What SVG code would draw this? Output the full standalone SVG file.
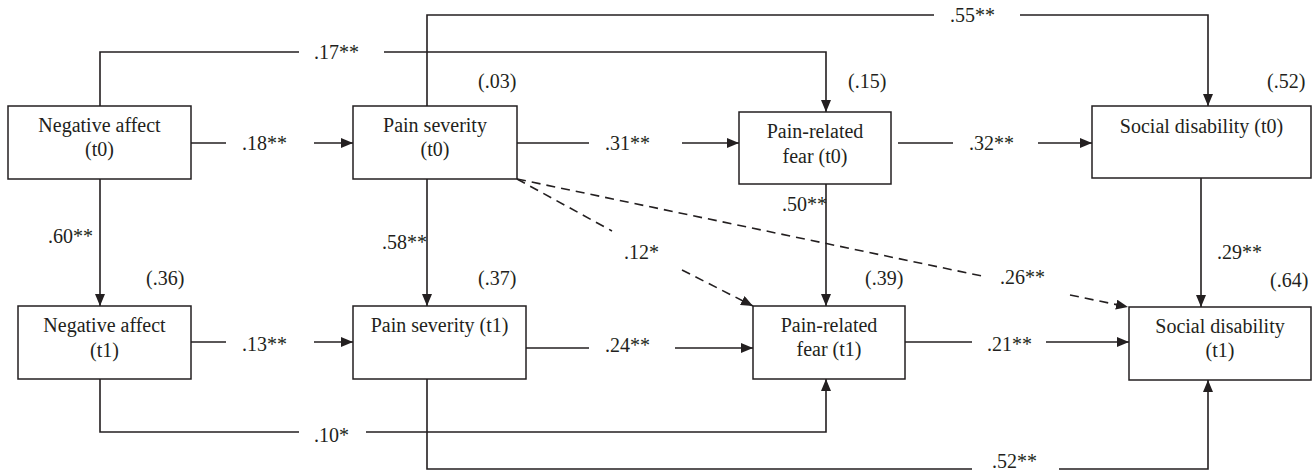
<svg xmlns="http://www.w3.org/2000/svg" width="1315" height="474" viewBox="0 0 1315 474">
<style>
  .box{fill:#fff;stroke:#231f20;stroke-width:1.5}
  .t{font-family:"Liberation Serif","Times New Roman",serif;font-size:20px;fill:#231f20}
  .c{text-anchor:middle}
  .ln{fill:none;stroke:#231f20;stroke-width:1.6}
  .ar{marker-end:url(#ah)}
  .d{stroke-dasharray:9 6}
</style>
<defs>
  <marker id="ah" markerUnits="userSpaceOnUse" markerWidth="12" markerHeight="10" refX="12" refY="5" orient="auto">
    <path d="M0,0 L12,5 L0,10 z" fill="#231f20"/>
  </marker>
</defs>
<rect width="1315" height="474" fill="#fff"/>
<g id="connectors">
  <path class="ln" d="M100,106 V52 H299"/>
  <path class="ln ar" d="M384,52 H826 V112"/>
  <path class="ln" d="M427,106 V15 H934"/>
  <path class="ln ar" d="M1020,15 H1208 V106"/>
  <path class="ln" d="M191,143 H226"/>
  <path class="ln ar" d="M314,143 H353"/>
  <path class="ln" d="M517,143 H589"/>
  <path class="ln ar" d="M682,143 H739"/>
  <path class="ln" d="M898,143 H953"/>
  <path class="ln ar" d="M1038,143 H1092"/>
  <path class="ln ar" d="M100,179 V306"/>
  <path class="ln ar" d="M427,179 V306"/>
  <path class="ln ar" d="M826,184 V306"/>
  <path class="ln ar" d="M1201,178 V307"/>
  <path class="ln" d="M191,342 H226"/>
  <path class="ln ar" d="M314,342 H353"/>
  <path class="ln" d="M526,348 H589"/>
  <path class="ln ar" d="M675,348 H753"/>
  <path class="ln" d="M905,342 H972"/>
  <path class="ln ar" d="M1046,342 H1129"/>
  <path class="ln" d="M100,379 V432 H299"/>
  <path class="ln ar" d="M366,432 H826 V379"/>
  <path class="ln" d="M427,379 V469 H972"/>
  <path class="ln ar" d="M1059,469 H1208 V380"/>
  <path class="ln d" d="M517,179 L612,231"/>
  <path class="ln d ar" d="M682,270 L753,306"/>
  <path class="ln d" d="M517,179 L982,276"/>
  <path class="ln d ar" d="M1070,295 L1128,307"/>
  <g class="t">
    <text x="314" y="59">.17**</text>
    <text x="950" y="22">.55**</text>
    <text x="242" y="150">.18**</text>
    <text x="605" y="150">.31**</text>
    <text x="969" y="150">.32**</text>
    <text x="48" y="243">.60**</text>
    <text x="382" y="249">.58**</text>
    <text x="782" y="211">.50**</text>
    <text x="1217" y="259">.29**</text>
    <text x="624" y="259">.12*</text>
    <text x="1000" y="284">.26**</text>
    <text x="242" y="351">.13**</text>
    <text x="605" y="352">.24**</text>
    <text x="987" y="351">.21**</text>
    <text x="314" y="442">.10*</text>
    <text x="992" y="468">.52**</text>
  </g>
</g>
<g id="na0">
  <rect class="box" x="8" y="106" width="183" height="73"/>
  <text class="t c" x="99.5" y="132">Negative affect</text>
  <text class="t c" x="99.5" y="156">(t0)</text>
</g>
<g id="ps0">
  <rect class="box" x="353" y="106" width="164" height="73"/>
  <text class="t c" x="435" y="132">Pain severity</text>
  <text class="t c" x="435" y="156">(t0)</text>
  <text class="t" x="478" y="88">(.03)</text>
</g>
<g id="prf0">
  <rect class="box" x="739" y="112" width="152" height="72"/>
  <text class="t c" x="815" y="138">Pain-related</text>
  <text class="t c" x="815" y="163">fear (t0)</text>
  <text class="t" x="848" y="88">(.15)</text>
</g>
<g id="sd0">
  <rect class="box" x="1092" y="106" width="219" height="72"/>
  <text class="t c" x="1201.5" y="133">Social disability (t0)</text>
  <text class="t" x="1267" y="88">(.52)</text>
</g>
<g id="na1">
  <rect class="box" x="18" y="306" width="173" height="73"/>
  <text class="t c" x="104.5" y="332">Negative affect</text>
  <text class="t c" x="104.5" y="357">(t1)</text>
  <text class="t" x="146" y="285">(.36)</text>
</g>
<g id="ps1">
  <rect class="box" x="353" y="306" width="173" height="73"/>
  <text class="t c" x="439.5" y="332">Pain severity (t1)</text>
  <text class="t" x="478" y="285">(.37)</text>
</g>
<g id="prf1">
  <rect class="box" x="753" y="306" width="152" height="73"/>
  <text class="t c" x="829" y="332">Pain-related</text>
  <text class="t c" x="829" y="356">fear (t1)</text>
  <text class="t" x="865" y="285">(.39)</text>
</g>
<g id="sd1">
  <rect class="box" x="1129" y="307" width="182" height="73"/>
  <text class="t c" x="1220" y="333">Social disability</text>
  <text class="t c" x="1220" y="357">(t1)</text>
  <text class="t" x="1270" y="287">(.64)</text>
</g>
</svg>
